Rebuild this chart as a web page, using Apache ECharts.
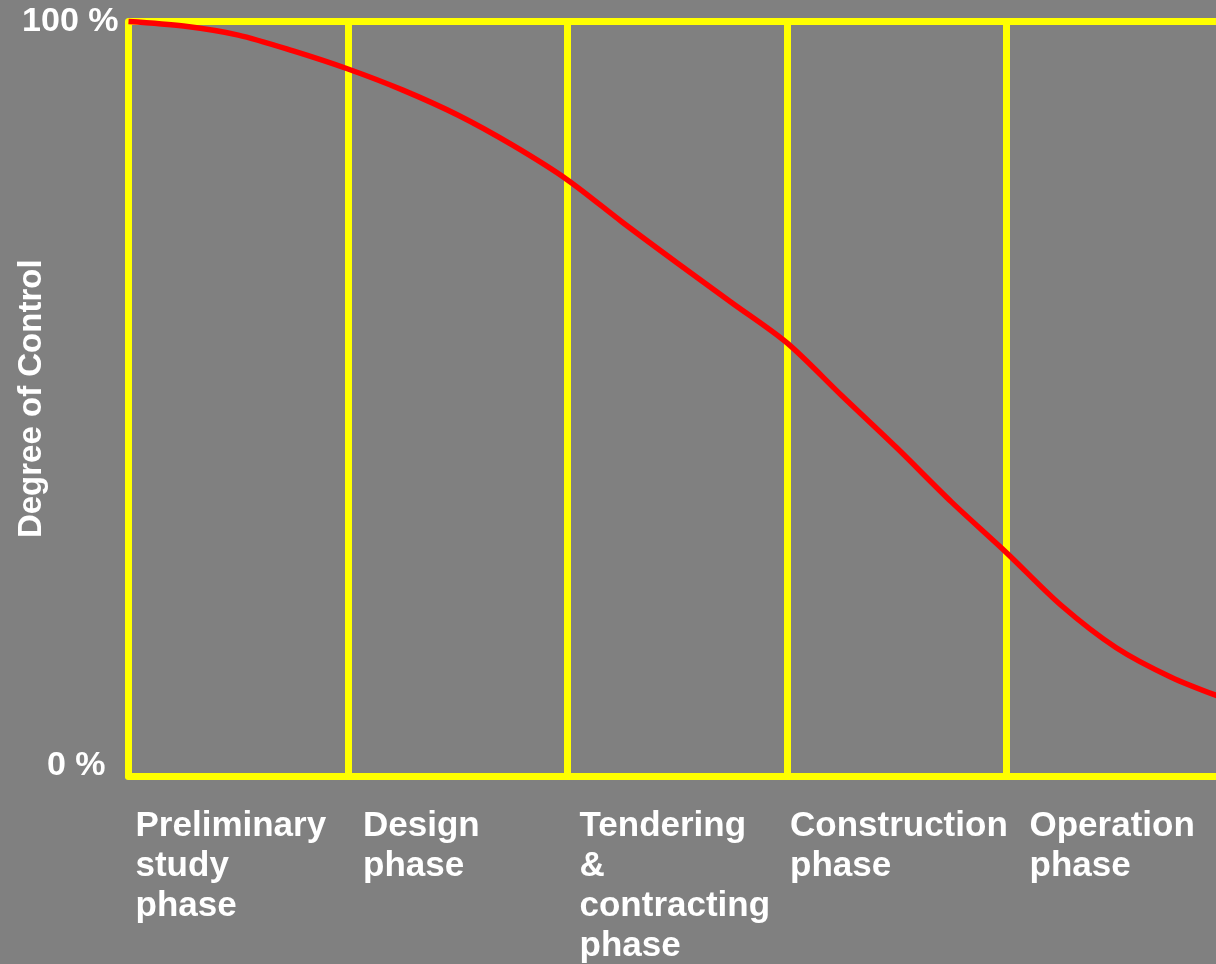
<!DOCTYPE html>
<html>
<head>
<meta charset="utf-8">
<script src="https://cdn.jsdelivr.net/npm/echarts@6/dist/echarts.min.js"></script>
<style>
html,body{margin:0;padding:0;background:#808080;}
#chart{width:1216px;height:964px;}
</style>
</head>
<body>
<div id="chart"></div>
<script>
// Phase categories (one per unit along the x axis)
var phases = [
  'Preliminary\nstudy\nphase',
  'Design\nphase',
  'Tendering\n&\ncontracting\nphase',
  'Construction\nphase',
  'Operation\nphase'
];
// Degree-of-control curve (x in phase units, y in %)
var curveX = [0, 0.25, 0.5, 0.75, 1.0, 1.25, 1.5, 1.75, 2.0, 2.25, 2.5, 2.75, 3.0, 3.25, 3.5, 3.75, 4.0, 4.25, 4.5, 4.75, 5.0];
var curveY = [100, 99.4, 98.2, 96.1, 93.7, 90.9, 87.6, 83.6, 79.0, 73.4, 68.0, 62.7, 57.4, 50.4, 43.5, 36.3, 29.6, 22.6, 17.0, 13.1, 10.2];
// Y tick labels
var yTicks = {0: '0 %', 100: '100 %'};

// Style-only: left padding of each phase label
var labelPad = [7, 15, 12, 3, 23];

var curve = curveX.map(function (x, i) { return [x, curveY[i]]; });

var FONT = 'Liberation Sans, Arial, sans-serif';
var rich = {};
labelPad.forEach(function (p, i) {
  rich['p' + i] = {
    color: '#ffffff', fontFamily: FONT,
    fontWeight: 'bold', fontSize: 35, lineHeight: 40, padding: [0, 0, 0, p], align: 'left'
  };
});

var chart = echarts.init(document.getElementById('chart'));
chart.setOption({
  backgroundColor: '#808080',
  animation: false,
  grid: { left: 128.5, right: -10, top: 21.5, bottom: 188, containLabel: false, outerBoundsMode: 'none' },
  xAxis: {
    type: 'value', min: 0, max: 5, interval: 1,
    axisLine: { show: true, onZero: false, lineStyle: { color: '#ffff00', width: 7 } },
    axisTick: { show: false },
    splitLine: { show: true, lineStyle: { color: '#ffff00', width: 7 } },
    axisLabel: {
      margin: 30,
      align: 'left',
      verticalAlign: 'top',
      showMaxLabel: false,
      hideOverlap: false,
      formatter: function (v) {
        var i = Math.round(v);
        if (i < 0 || i >= phases.length) return '';
        return phases[i].split('\n').map(function (s) { return '{p' + i + '|' + s + '}'; }).join('\n');
      },
      rich: rich
    }
  },
  yAxis: {
    type: 'value', min: 0, max: 100, interval: 100,
    name: 'Degree of Control',
    nameLocation: 'middle',
    nameGap: 80,
    nameMoveOverlap: false,
    nameRotate: 90,
    nameTextStyle: {
      color: '#ffffff', fontFamily: FONT,
      fontWeight: 'bold', fontSize: 33
    },
    axisLine: { show: true, lineStyle: { color: '#ffff00', width: 7 } },
    axisTick: { show: false },
    splitLine: { show: true, lineStyle: { color: '#ffff00', width: 7 } },
    axisLabel: {
      margin: 10,
      formatter: function (v) {
        if (v === 0) return '{z|' + yTicks[0] + '}';
        return '{h|' + yTicks[100] + '}';
      },
      rich: {
        h: { color: '#ffffff', fontFamily: FONT, fontWeight: 'bold', fontSize: 34 },
        z: { color: '#ffffff', fontFamily: FONT, fontWeight: 'bold', fontSize: 34, padding: [0, 13, 20, 0] }
      }
    }
  },
  series: [{
    type: 'line',
    data: curve,
    smooth: 0.3,
    showSymbol: false,
    symbol: 'none',
    clip: false,
    lineStyle: { color: '#ff0000', width: 5.5 },
    z: 5
  }]
});
</script>
</body>
</html>
